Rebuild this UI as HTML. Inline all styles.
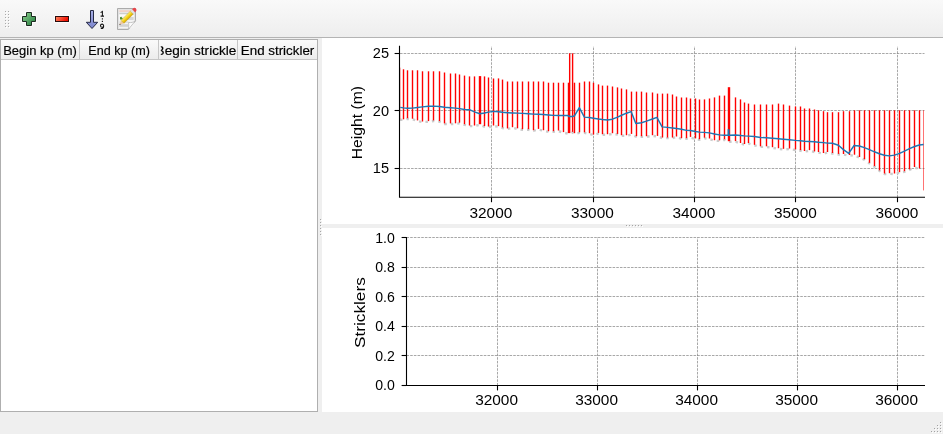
<!DOCTYPE html>
<html><head><meta charset="utf-8"><title>Stricklers</title>
<style>
html,body{margin:0;padding:0;}
body{width:943px;height:434px;overflow:hidden;background:#efefef;font-family:"Liberation Sans",sans-serif;position:relative;}
#tb{position:absolute;left:0;top:0;width:943px;height:37px;background:linear-gradient(#f9f9f9,#eeeeee);border-bottom:1px solid #b4b4b4;box-sizing:content-box;}
#tbl{position:absolute;left:0;top:39px;width:316px;height:371px;border:1px solid #afafaf;background:#fff;}
#hdr{position:absolute;left:0;top:0;width:316px;height:19px;background:linear-gradient(#fafafa,#ececec);border-bottom:1px solid #c6c6c6;}
.sep{position:absolute;top:0;width:1px;height:19px;background:#c6c6c6;}
#p1{position:absolute;left:322px;top:38px;width:621px;height:186px;background:#fff;}
#p2{position:absolute;left:322px;top:228px;width:621px;height:184px;background:#fff;}
svg{position:absolute;left:0;top:0;will-change:transform;}
text{font-family:"Liberation Sans",sans-serif;}
</style></head><body>
<div id="tb"></div>
<div id="tbl"><div id="hdr"></div>
<div class="sep" style="left:78px"></div><div class="sep" style="left:157px"></div><div class="sep" style="left:236px"></div>
</div>
<div id="p1"></div><div id="p2"></div>
<svg width="943" height="434" viewBox="0 0 943 434">
<defs>
<clipPath id="c1"><rect x="400" y="46.2" width="524.5" height="151.1"/></clipPath>
<clipPath id="h3"><rect x="160.8" y="40" width="75.2" height="19"/></clipPath>
<linearGradient id="gp" x1="0" y1="0" x2="1" y2="1"><stop offset="0" stop-color="#8fd08f"/><stop offset="1" stop-color="#1f7a3c"/></linearGradient>
<linearGradient id="gm" x1="0" y1="0" x2="1" y2="0.3"><stop offset="0" stop-color="#ff8a62"/><stop offset="1" stop-color="#f00c00"/></linearGradient>
<linearGradient id="ga" x1="0" y1="0" x2="0" y2="1"><stop offset="0" stop-color="#a9b0e6"/><stop offset="1" stop-color="#7a84cc"/></linearGradient>
<linearGradient id="gpen" x1="0" y1="0" x2="0" y2="1"><stop offset="0" stop-color="#fff070"/><stop offset="0.55" stop-color="#f3cf18"/><stop offset="1" stop-color="#d7a600"/></linearGradient>
</defs>
<!-- toolbar handle -->
<g fill="#a9a9a9">
<rect x="5" y="11" width="1" height="1"/><rect x="8" y="11" width="1" height="1"/><rect x="5" y="14" width="1" height="1"/><rect x="8" y="14" width="1" height="1"/><rect x="5" y="17" width="1" height="1"/><rect x="8" y="17" width="1" height="1"/><rect x="5" y="20" width="1" height="1"/><rect x="8" y="20" width="1" height="1"/><rect x="5" y="23" width="1" height="1"/><rect x="8" y="23" width="1" height="1"/><rect x="5" y="26" width="1" height="1"/><rect x="8" y="26" width="1" height="1"/>
</g>
<g fill="#ffffff">
<rect x="6" y="12" width="1" height="1"/><rect x="9" y="12" width="1" height="1"/><rect x="6" y="15" width="1" height="1"/><rect x="9" y="15" width="1" height="1"/><rect x="6" y="18" width="1" height="1"/><rect x="9" y="18" width="1" height="1"/><rect x="6" y="21" width="1" height="1"/><rect x="9" y="21" width="1" height="1"/><rect x="6" y="24" width="1" height="1"/><rect x="9" y="24" width="1" height="1"/><rect x="6" y="27" width="1" height="1"/><rect x="9" y="27" width="1" height="1"/>
</g>
<!-- plus icon -->
<g>
<path d="M26.5 12.5h5v4h4v5h-4v4h-5v-4h-4v-5h4z" fill="none" stroke="#fff" stroke-width="2.8" stroke-linejoin="round" opacity="0.8"/>
<path d="M26.5 12.5h5v4h4v5h-4v4h-5v-4h-4v-5h4z" fill="url(#gp)" stroke="#1c2a20" stroke-width="1" stroke-linejoin="round"/>
</g>
<!-- minus icon -->
<g>
<rect x="55.5" y="16.5" width="13" height="5" fill="none" stroke="#fff" stroke-width="2.8" opacity="0.8"/>
<rect x="55.5" y="16.5" width="13" height="5" fill="url(#gm)" stroke="#2a0c0c" stroke-width="1"/>
</g>
<!-- sort arrow icon -->
<g>
<path d="M90.5 10.5h3v11.8h4.2l-5.7 6.2l-5.7-6.2h4.2z" fill="url(#ga)" stroke="#262a45" stroke-width="1" stroke-linejoin="round"/>
<path d="M100.6 12.6L102.4 11.4V16M100.6 16.1H104" fill="none" stroke="#111" stroke-width="1.05"/>
<rect x="101.8" y="18.3" width="1.2" height="1.2" fill="#1a1a1a"/><rect x="101.8" y="20.8" width="1.2" height="1.2" fill="#1a1a1a"/>
<path d="M103.6 25.7a1.55 1.6 0 1 0 -3.1 0a1.55 1.6 0 1 0 3.1 0V26.6C103.6 28.2 102.4 28.9 100.8 28.4" fill="none" stroke="#111" stroke-width="1.05"/>
</g>
<!-- edit icon -->
<g>
<path d="M117.5 8.5h18v12.3l-7.3 8.7h-10.7z" fill="#e3e3e3" stroke="#ababab" stroke-width="1" stroke-linejoin="round"/>
<rect x="119" y="10" width="15" height="18" fill="#f3f3f3"/>
<rect x="119.3" y="10.4" width="12" height="1.3" fill="#efc4b8"/>
<rect x="119.3" y="12.7" width="14.2" height="1.4" fill="#cdcdcd"/>
<rect x="119.3" y="15" width="14.2" height="1.4" fill="#fbfbfb"/>
<rect x="123.8" y="17" width="9.8" height="3" fill="#d6d6d6"/>
<path d="M120 19.6v-2.4l1.4-0.5l2 2.9z" fill="#4f8f2f"/>
<rect x="119.3" y="21.5" width="9" height="1.3" fill="#dadada"/>
<rect x="119.3" y="24.2" width="9" height="2.6" fill="#d2d2d2"/>
<path d="M128.2 29.5c0.6-2.2 0.7-4.6 0.3-7.1c2.4 0.5 5 0 7-1.6z" fill="#fcfcfc" stroke="#b0b0b0" stroke-width="0.7" stroke-linejoin="round"/>
<g transform="translate(119.3 25.1) rotate(-45)">
<path d="M0 0L4.6 -2.05V2.05z" fill="#efc9a4"/>
<path d="M0 0L1.5 -0.67V0.67z" fill="#3a3a3a"/>
<rect x="4.6" y="-2.05" width="13.2" height="4.1" fill="url(#gpen)"/>
<rect x="4.6" y="-2.05" width="13.2" height="4.1" fill="none" stroke="#b89010" stroke-width="0.4"/>
<rect x="17.8" y="-2.05" width="2.4" height="4.1" fill="#e2e2e2" stroke="#aaa" stroke-width="0.3"/>
<path d="M20.2 -2.05h1.2a2.05 2.05 0 0 1 0 4.1h-1.2z" fill="#e8454a"/>
</g>
</g>
<!-- table header text -->
<g font-size="12.7" fill="#000" stroke="#000" stroke-width="0.18">
<text x="3.2" y="54.5" textLength="73.6" lengthAdjust="spacingAndGlyphs">Begin kp (m)</text>
<text x="88.3" y="54.5" textLength="61.7" lengthAdjust="spacingAndGlyphs">End kp (m)</text>
<g clip-path="url(#h3)"><text x="155.6" y="54.5" textLength="85.2" lengthAdjust="spacingAndGlyphs">Begin strickler</text></g>
<text x="240.8" y="54.5" textLength="73.5" lengthAdjust="spacingAndGlyphs">End strickler</text>
</g>
<!-- splitter handles -->
<g fill="#a6a6a6">
<rect x="320" y="219" width="1" height="1"/><rect x="320" y="222" width="1" height="1"/><rect x="320" y="225" width="1" height="1"/><rect x="320" y="228" width="1" height="1"/><rect x="320" y="231" width="1" height="1"/><rect x="320" y="234" width="1" height="1"/>
<rect x="626" y="225" width="1" height="1"/><rect x="629" y="225" width="1" height="1"/><rect x="632" y="225" width="1" height="1"/><rect x="635" y="225" width="1" height="1"/><rect x="638" y="225" width="1" height="1"/><rect x="641" y="225" width="1" height="1"/>
</g>
<g fill="#ffffff">
<rect x="321" y="220" width="1" height="1"/><rect x="321" y="223" width="1" height="1"/><rect x="321" y="226" width="1" height="1"/><rect x="321" y="229" width="1" height="1"/><rect x="321" y="232" width="1" height="1"/><rect x="321" y="235" width="1" height="1"/>
<rect x="627" y="226" width="1" height="1"/><rect x="630" y="226" width="1" height="1"/><rect x="633" y="226" width="1" height="1"/><rect x="636" y="226" width="1" height="1"/><rect x="639" y="226" width="1" height="1"/><rect x="642" y="226" width="1" height="1"/>
</g>
<!-- size grip -->
<g fill="#a2a2a2">
<rect x="940" y="422" width="1" height="1"/><rect x="937" y="425" width="1" height="1"/><rect x="940" y="425" width="1" height="1"/><rect x="934" y="428" width="1" height="1"/><rect x="937" y="428" width="1" height="1"/><rect x="940" y="428" width="1" height="1"/><rect x="931" y="431" width="1" height="1"/><rect x="934" y="431" width="1" height="1"/><rect x="937" y="431" width="1" height="1"/><rect x="940" y="431" width="1" height="1"/>
</g>
<g fill="#ffffff">
<rect x="941" y="423" width="1" height="1"/><rect x="938" y="426" width="1" height="1"/><rect x="941" y="426" width="1" height="1"/><rect x="935" y="429" width="1" height="1"/><rect x="938" y="429" width="1" height="1"/><rect x="941" y="429" width="1" height="1"/><rect x="932" y="432" width="1" height="1"/><rect x="935" y="432" width="1" height="1"/><rect x="938" y="432" width="1" height="1"/><rect x="941" y="432" width="1" height="1"/>
</g>
<!-- upper plot -->
<g stroke="#808080" stroke-width="0.69" stroke-dasharray="2.57 1.11" fill="none"><line x1="491.5" y1="197.3" x2="491.5" y2="46.2"/><line x1="593.5" y1="197.3" x2="593.5" y2="46.2"/><line x1="694.5" y1="197.3" x2="694.5" y2="46.2"/><line x1="795.5" y1="197.3" x2="795.5" y2="46.2"/><line x1="897.5" y1="197.3" x2="897.5" y2="46.2"/><line x1="400" y1="53.5" x2="924.5" y2="53.5"/><line x1="400" y1="110.5" x2="924.5" y2="110.5"/><line x1="400" y1="168.5" x2="924.5" y2="168.5"/></g>
<g clip-path="url(#c1)">
<polyline points="400,119.7 403.5,119.9 407.5,118.8 412.5,119.3 417.5,121 422.5,122.1 428.5,121.7 433.5,121 439.5,121.7 444.5,124 450.5,124 455.5,123.9 459.5,123.2 464.5,124.8 469.5,126.1 474.5,126.1 479.5,124.8 484.5,126.7 488.5,127.1 493.5,126.1 498.5,126.7 502.5,128 507.5,129 512.5,127.8 517.5,128.9 522.5,129.8 528.5,129.8 533.5,130.8 538.5,129.5 543.5,130.8 548.5,131.8 553.5,131.8 558.5,131.1 563.5,132.7 568.5,133.7 569.67,133.7 572.6,132.5 574.5,133.8 579.5,132.9 584.5,132.9 589.5,133.8 593.5,135.1 598.5,133.5 602.5,134.8 607.5,134.8 612.5,133.8 617.5,134.5 621.5,135.8 626.5,135.8 631.5,134.5 636.5,136.8 641.5,136.8 646.5,136.8 652.5,135.8 657.5,136.5 662.5,138.1 667.5,138.1 672.5,138.1 676.5,137.1 681.5,138.8 686.5,138.8 690.5,137.5 695.5,139 699.5,139.8 704.5,138.2 709.5,139.1 714.5,140.8 719.5,140.9 724.5,139.8 728.5,141.8 735.5,141.7 740.5,143.6 744.5,144.6 748.5,143.6 754.5,145.4 760.5,146.9 766.5,146.9 772.5,147.8 778.5,148.8 783.5,149.4 789.5,149.1 795.5,150 800.5,150.7 804.5,151.6 809.5,150.7 814.5,152 818.5,152.6 823.5,153.6 827.5,152.6 832.5,153.6 838.5,154.5 843.5,154.6 849.5,155.6 854.5,155.3 859.5,157.6 864.5,159.8 869.5,163.4 874.5,166.7 879.5,170.9 884.5,174.1 889.5,173.8 894.5,174.1 899.5,172.8 904.5,171.8 909.5,169.9 914.5,167.6 919.5,168.9" fill="none" stroke="#cccccc" stroke-width="2.4" stroke-dasharray="2.5 4.0"/>
<g fill="#ff0000">
<rect x="402.81" y="69.3" width="1.39" height="50"/>
<rect x="406.81" y="70.3" width="1.39" height="47.9"/>
<rect x="411.81" y="70.3" width="1.39" height="48.4"/>
<rect x="416.81" y="70.3" width="1.39" height="50.1"/>
<rect x="421.81" y="71.3" width="1.39" height="50.2"/>
<rect x="427.81" y="71.3" width="1.39" height="49.8"/>
<rect x="432.81" y="71.3" width="1.39" height="49.1"/>
<rect x="438.81" y="71.3" width="1.39" height="49.8"/>
<rect x="443.81" y="72.5" width="1.39" height="50.9"/>
<rect x="449.81" y="73.5" width="1.39" height="49.9"/>
<rect x="454.81" y="73.5" width="1.39" height="49.8"/>
<rect x="458.81" y="74.5" width="1.39" height="48.1"/>
<rect x="463.81" y="75.6" width="1.39" height="48.6"/>
<rect x="468.81" y="76.4" width="1.39" height="49.1"/>
<rect x="473.81" y="76.4" width="1.39" height="49.1"/>
<rect x="478.8" y="76.1" width="2.4" height="48.1"/>
<rect x="483.81" y="76.4" width="1.39" height="49.7"/>
<rect x="487.81" y="77.5" width="1.39" height="49"/>
<rect x="492.81" y="78.5" width="1.39" height="47"/>
<rect x="497.81" y="78.4" width="1.39" height="47.7"/>
<rect x="501.81" y="79.6" width="1.39" height="47.8"/>
<rect x="506.81" y="81.5" width="1.39" height="46.9"/>
<rect x="511.81" y="81.5" width="1.39" height="45.7"/>
<rect x="516.8" y="81.5" width="1.39" height="46.8"/>
<rect x="521.8" y="81.5" width="1.39" height="47.7"/>
<rect x="527.8" y="81.5" width="1.39" height="47.7"/>
<rect x="532.8" y="81.5" width="1.39" height="48.7"/>
<rect x="537.8" y="81.5" width="1.39" height="47.4"/>
<rect x="542.8" y="81.5" width="1.39" height="48.7"/>
<rect x="547.8" y="82.7" width="1.39" height="48.5"/>
<rect x="552.8" y="82.7" width="1.39" height="48.5"/>
<rect x="557.8" y="82.7" width="1.39" height="47.8"/>
<rect x="562.8" y="82.7" width="1.39" height="49.4"/>
<rect x="567.8" y="82.7" width="1.39" height="50.4"/>
<rect x="568.97" y="53.3" width="1.39" height="79.8"/>
<rect x="571.9" y="53.3" width="1.39" height="78.6"/>
<rect x="573.8" y="82.7" width="1.39" height="50.5"/>
<rect x="578.8" y="82.7" width="1.39" height="49.6"/>
<rect x="583.8" y="81.5" width="1.39" height="50.8"/>
<rect x="588.8" y="81.5" width="1.39" height="51.7"/>
<rect x="592.8" y="82.7" width="1.39" height="51.8"/>
<rect x="597.8" y="84.4" width="1.39" height="48.5"/>
<rect x="601.8" y="85.6" width="1.39" height="48.6"/>
<rect x="606.8" y="85.6" width="1.39" height="48.6"/>
<rect x="611.8" y="86.5" width="1.39" height="46.7"/>
<rect x="616.8" y="87.4" width="1.39" height="46.5"/>
<rect x="620.8" y="88.5" width="1.39" height="46.7"/>
<rect x="625.8" y="89.4" width="1.39" height="45.8"/>
<rect x="630.8" y="91.6" width="1.39" height="42.3"/>
<rect x="635.8" y="91.6" width="1.39" height="44.6"/>
<rect x="640.8" y="91.6" width="1.39" height="44.6"/>
<rect x="645.8" y="92.5" width="1.39" height="43.7"/>
<rect x="651.8" y="92.5" width="1.39" height="42.7"/>
<rect x="656.8" y="93.6" width="1.39" height="42.3"/>
<rect x="661.8" y="93.6" width="1.39" height="43.9"/>
<rect x="666.8" y="93.6" width="1.39" height="43.9"/>
<rect x="671.8" y="94.5" width="1.39" height="43"/>
<rect x="675.8" y="96.5" width="1.39" height="40"/>
<rect x="680.8" y="97.5" width="1.39" height="40.7"/>
<rect x="685.8" y="97.5" width="1.39" height="40.7"/>
<rect x="689.8" y="98.5" width="1.39" height="38.4"/>
<rect x="694.8" y="98.5" width="1.39" height="39.9"/>
<rect x="698.8" y="99.5" width="1.39" height="39.7"/>
<rect x="703.8" y="99.4" width="1.39" height="38.2"/>
<rect x="708.8" y="98.5" width="1.39" height="40"/>
<rect x="713.8" y="97.4" width="1.39" height="42.8"/>
<rect x="718.8" y="95.6" width="1.39" height="44.7"/>
<rect x="723.8" y="95.6" width="1.39" height="43.6"/>
<rect x="727.8" y="87.2" width="2.4" height="54"/>
<rect x="734.8" y="97.4" width="1.39" height="43.7"/>
<rect x="739.8" y="99.4" width="1.39" height="43.6"/>
<rect x="743.8" y="102.5" width="1.39" height="41.5"/>
<rect x="747.8" y="103.6" width="1.39" height="39.4"/>
<rect x="753.8" y="104.5" width="1.39" height="40.3"/>
<rect x="759.8" y="104.5" width="1.39" height="41.8"/>
<rect x="765.8" y="104.5" width="1.39" height="41.8"/>
<rect x="771.8" y="104.5" width="1.39" height="42.7"/>
<rect x="777.8" y="103.6" width="1.39" height="44.6"/>
<rect x="782.8" y="104.5" width="1.39" height="44.3"/>
<rect x="788.8" y="105.6" width="1.39" height="42.9"/>
<rect x="794.8" y="106.5" width="1.39" height="42.9"/>
<rect x="799.8" y="106.5" width="1.39" height="43.6"/>
<rect x="803.8" y="108.5" width="1.39" height="42.5"/>
<rect x="808.8" y="108.5" width="1.39" height="41.6"/>
<rect x="813.8" y="109.5" width="1.39" height="41.9"/>
<rect x="817.8" y="110.3" width="1.39" height="41.7"/>
<rect x="822.8" y="111.2" width="1.39" height="41.8"/>
<rect x="826.8" y="112.2" width="1.39" height="39.8"/>
<rect x="831.8" y="112.2" width="1.39" height="40.8"/>
<rect x="837.8" y="112.2" width="1.39" height="41.7"/>
<rect x="842.8" y="111.2" width="1.39" height="42.8"/>
<rect x="848.8" y="111.2" width="1.39" height="43.8"/>
<rect x="853.8" y="110.3" width="1.39" height="44.4"/>
<rect x="858.8" y="110.3" width="1.39" height="46.7"/>
<rect x="863.8" y="110.3" width="1.39" height="48.9"/>
<rect x="868.8" y="110.3" width="1.39" height="52.5"/>
<rect x="873.8" y="110.3" width="1.39" height="55.8"/>
<rect x="878.8" y="110.3" width="1.39" height="60"/>
<rect x="883.8" y="110.3" width="1.39" height="63.2"/>
<rect x="888.8" y="110.3" width="1.39" height="62.9"/>
<rect x="893.8" y="110.3" width="1.39" height="63.2"/>
<rect x="898.8" y="110.3" width="1.39" height="61.9"/>
<rect x="903.8" y="110.3" width="1.39" height="60.9"/>
<rect x="908.8" y="110.3" width="1.39" height="59"/>
<rect x="913.8" y="110.3" width="1.39" height="56.7"/>
<rect x="918.8" y="110.3" width="1.39" height="58"/>
<rect x="923.45" y="110.3" width="0.55" height="80.1"/>
<rect x="400" y="67.6" width="0.55" height="51.7" opacity="0.45"/>
</g>
<polyline points="400.3,107.35 403.5,107.9 407.5,108.3 412.5,108.1 417.4,107.5 422.4,106.9 428.5,106.3 433.4,106.1 439.4,106.5 444.5,107.2 450.4,107.7 455.4,108.1 459.5,108.6 464.5,109.5 469.5,109.7 474.4,111.9 479.8,113.7 484.5,113 488.5,112.1 493.5,111.4 498.5,111.7 502.5,112.2 507.6,112.7 512.5,112.95 517.4,113.1 522.5,113.4 528.4,113.7 533.4,114.1 538.4,114.2 543.4,114.5 548.5,115 553.5,115.4 558.5,115.5 563.5,115.5 567.6,115.5 569.5,116.5 572.7,116.5 574.5,115.8 579.3,107.7 584.4,117.1 589.4,117.5 593.4,118.2 598.4,119 602.4,119.5 607.5,120 612.4,119.2 617.6,117.1 621.6,115.25 626.5,113.2 631.1,111.6 635.8,123.5 641.5,122.7 646.5,121.1 652.5,119 656.9,117.4 662.1,126.9 667.4,127.4 672.5,128 676.5,128.5 681.5,129.2 686.5,130.4 690.5,130.5 695.5,131.5 699.4,132.1 704.4,132.4 709.4,132.9 714.4,134 719.4,134.9 724.4,135.3 729.8,135.3 735.5,135 740.5,135.5 744.5,135.9 748.5,136.1 754.4,136.5 760.5,137.5 766.5,137.7 772.5,138.2 778.4,138.7 783.4,139.2 789.4,139.8 795.5,140.4 800.5,140.7 804.4,141.2 809.4,141.5 814.4,141.7 818.4,142.2 823.5,142.6 827.5,143.1 832.4,143.3 838.4,145.2 843.4,149.6 848.7,153.4 854.1,145.5 859.4,146 864.4,147.6 869.4,149.7 874.4,151.8 879.4,153.7 884.4,155.3 889.4,155.85 894.5,155.1 899.6,153.4 904.5,151.1 909.5,148.7 914.5,146.5 919.4,145 923.6,144.5" fill="none" stroke="#1f77b4" stroke-width="1.45" stroke-linejoin="round"/>
<rect x="727.6" y="129.2" width="1.9" height="6.4" fill="#1f77b4"/>
</g>
<g stroke="#000" stroke-width="1.1" fill="none">
<path d="M399.5 45.7V197.3H925"/>
<line x1="491.5" y1="197.3" x2="491.5" y2="202.2"/><line x1="593.5" y1="197.3" x2="593.5" y2="202.2"/><line x1="694.5" y1="197.3" x2="694.5" y2="202.2"/><line x1="795.5" y1="197.3" x2="795.5" y2="202.2"/><line x1="897.5" y1="197.3" x2="897.5" y2="202.2"/><line x1="394.6" y1="53.5" x2="399.5" y2="53.5"/><line x1="394.6" y1="110.5" x2="399.5" y2="110.5"/><line x1="394.6" y1="168.5" x2="399.5" y2="168.5"/>
</g>
<g font-size="14" fill="#000"><text x="490.9" y="217.6" textLength="42.8" lengthAdjust="spacingAndGlyphs" text-anchor="middle">32000</text><text x="592.4" y="217.6" textLength="42.8" lengthAdjust="spacingAndGlyphs" text-anchor="middle">33000</text><text x="693.9" y="217.6" textLength="42.8" lengthAdjust="spacingAndGlyphs" text-anchor="middle">34000</text><text x="795.4" y="217.6" textLength="42.8" lengthAdjust="spacingAndGlyphs" text-anchor="middle">35000</text><text x="896.9" y="217.6" textLength="42.8" lengthAdjust="spacingAndGlyphs" text-anchor="middle">36000</text><text x="389" y="57.9" textLength="16.2" lengthAdjust="spacingAndGlyphs" text-anchor="end">25</text><text x="389" y="115.9" textLength="16.2" lengthAdjust="spacingAndGlyphs" text-anchor="end">20</text><text x="389" y="172.7" textLength="16.2" lengthAdjust="spacingAndGlyphs" text-anchor="end">15</text>
<text transform="translate(362.4 122.7) rotate(-90)" text-anchor="middle" textLength="73.3" lengthAdjust="spacingAndGlyphs">Height (m)</text>
</g>
<!-- lower plot -->
<g stroke="#808080" stroke-width="0.69" stroke-dasharray="2.57 1.11" fill="none"><line x1="497.5" y1="385.5" x2="497.5" y2="237.5"/><line x1="597.5" y1="385.5" x2="597.5" y2="237.5"/><line x1="697.5" y1="385.5" x2="697.5" y2="237.5"/><line x1="797.5" y1="385.5" x2="797.5" y2="237.5"/><line x1="897.5" y1="385.5" x2="897.5" y2="237.5"/><line x1="406.5" y1="237.5" x2="924.5" y2="237.5"/><line x1="406.5" y1="267.5" x2="924.5" y2="267.5"/><line x1="406.5" y1="296.5" x2="924.5" y2="296.5"/><line x1="406.5" y1="326.5" x2="924.5" y2="326.5"/><line x1="406.5" y1="355.5" x2="924.5" y2="355.5"/></g>
<g stroke="#000" stroke-width="1.1" fill="none">
<path d="M406.5 237V385.5H925"/>
<line x1="497.5" y1="385.5" x2="497.5" y2="390.4"/><line x1="597.5" y1="385.5" x2="597.5" y2="390.4"/><line x1="697.5" y1="385.5" x2="697.5" y2="390.4"/><line x1="797.5" y1="385.5" x2="797.5" y2="390.4"/><line x1="897.5" y1="385.5" x2="897.5" y2="390.4"/><line x1="401.6" y1="237.5" x2="406.5" y2="237.5"/><line x1="401.6" y1="267.5" x2="406.5" y2="267.5"/><line x1="401.6" y1="296.5" x2="406.5" y2="296.5"/><line x1="401.6" y1="326.5" x2="406.5" y2="326.5"/><line x1="401.6" y1="355.5" x2="406.5" y2="355.5"/><line x1="401.6" y1="385.5" x2="406.5" y2="385.5"/>
</g>
<g font-size="14" fill="#000"><text x="496.6" y="405.1" textLength="42.8" lengthAdjust="spacingAndGlyphs" text-anchor="middle">32000</text><text x="596.6" y="405.1" textLength="42.8" lengthAdjust="spacingAndGlyphs" text-anchor="middle">33000</text><text x="696.6" y="405.1" textLength="42.8" lengthAdjust="spacingAndGlyphs" text-anchor="middle">34000</text><text x="796.6" y="405.1" textLength="42.8" lengthAdjust="spacingAndGlyphs" text-anchor="middle">35000</text><text x="896.6" y="405.1" textLength="42.8" lengthAdjust="spacingAndGlyphs" text-anchor="middle">36000</text><text x="394.8" y="243" textLength="19.6" lengthAdjust="spacingAndGlyphs" text-anchor="end">1.0</text><text x="394.8" y="271.7" textLength="19.6" lengthAdjust="spacingAndGlyphs" text-anchor="end">0.8</text><text x="394.8" y="301.6" textLength="19.6" lengthAdjust="spacingAndGlyphs" text-anchor="end">0.6</text><text x="394.8" y="331.1" textLength="19.6" lengthAdjust="spacingAndGlyphs" text-anchor="end">0.4</text><text x="394.8" y="360.9" textLength="19.6" lengthAdjust="spacingAndGlyphs" text-anchor="end">0.2</text><text x="394.8" y="390.1" textLength="19.6" lengthAdjust="spacingAndGlyphs" text-anchor="end">0.0</text>
<text transform="translate(364.8 312.6) rotate(-90)" text-anchor="middle" textLength="70.7" lengthAdjust="spacingAndGlyphs">Stricklers</text>
</g>
</svg>
</body></html>
